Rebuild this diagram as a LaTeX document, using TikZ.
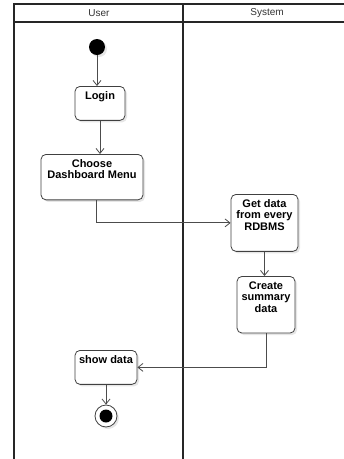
\documentclass[tikz,border=0pt]{standalone}
\usepackage{fontspec}
\setmainfont{Liberation Sans}
\usetikzlibrary{arrows.meta,shadows}
\tikzstyle{lane}=[draw=black!85, line width=1.3pt]
\tikzstyle{lanetitle}=[font=\fontsize{10}{11}\selectfont, text=black!80]
\tikzstyle{activity}=[draw=black!75, rounded corners=5pt, fill=white, anchor=north, align=center, inner ysep=5pt, text depth=16pt, font=\fontsize{11}{11.5}\selectfont\bfseries, drop shadow={shadow xshift=2pt, shadow yshift=-2pt, opacity=0.2}]
\tikzstyle{initial}=[circle, fill=black, minimum size=16pt, inner sep=0pt, drop shadow={shadow xshift=2pt, shadow yshift=-2pt, opacity=0.2}]
\tikzstyle{final}=[circle, draw=black!75, fill=white, minimum size=22pt, inner sep=0pt, path picture={\fill[black] (path picture bounding box.center) circle (6.5pt);}, drop shadow={shadow xshift=2pt, shadow yshift=-2pt, opacity=0.2}]

\begin{document}
\begin{tikzpicture}[x=1pt, y=-1pt, thick, >={Straight Barb[length=5pt,width=8pt]}]
                    \useasboundingbox (0,0) rectangle (344,459);
                    % swimlanes
                    \draw[lane] (14,459) -- (14,4) -- (344,4);
                    \draw[lane] (14,22) -- (344,22);
                    \draw[lane] (183,4) -- (183,459);
                    \node[lanetitle] (user) at (99,13) {User};
                    \node[lanetitle] (system) at (267,13) {System};
                    % activities
                    \node[initial] (start) at (97,47) {};
                    \node[activity, minimum width=50pt] (login) at (100,86) {Login};
                    \node[activity, minimum width=102pt] (choose) at (92,154) {Choose\\Dashboard Menu};
                    \node[activity, minimum width=67pt] (getdata) at (264.5,194) {Get data\\from every\\RDBMS};
                    \node[activity, minimum width=58pt] (create) at (266,276) {Create\\summary\\data};
                    \node[activity, minimum width=62pt] (show) at (106,350) {show data};
                    \node[final] (end) at (106,416) {};
                    % flows
                    \draw[->, black!70] (start) -- (start |- login.north);
                    \draw[->, black!70] (login) -- (login |- choose.north);
                    \draw[->, black!70] ([xshift=4pt]choose.south) |- (getdata.west);
                    \draw[->, black!70] (getdata) -- (getdata |- create.north);
                    \draw[->, black!70] (create.south) |- (show.east);
                    \draw[->, black!70] (show) -- (end);
                \end{tikzpicture}
\end{document}
